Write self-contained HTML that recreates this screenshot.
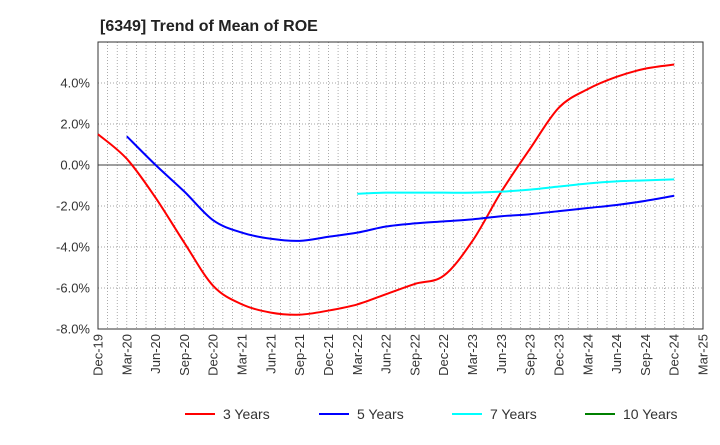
<!DOCTYPE html>
<html><head><meta charset="utf-8"><style>
body{margin:0;background:#fff;font-family:"Liberation Sans",Arial,sans-serif;}
svg text{font-family:"Liberation Sans",Arial,sans-serif;}
</style></head><body>
<svg id="c" width="720" height="440" xmlns="http://www.w3.org/2000/svg">
<text x="100" y="31" font-size="16" font-weight="bold" fill="#222">[6349]  Trend of Mean of ROE</text>
<g id="grid"></g><g id="axes"></g><g id="series"></g><g id="legend"></g>
</svg>
<script>
const xLabels=["Dec-19","Mar-20","Jun-20","Sep-20","Dec-20","Mar-21","Jun-21","Sep-21","Dec-21","Mar-22","Jun-22","Sep-22","Dec-22","Mar-23","Jun-23","Sep-23","Dec-23","Mar-24","Jun-24","Sep-24","Dec-24","Mar-25"];
const yTicks=[4,2,0,-2,-4,-6,-8];
const seriesNames=["3 Years","5 Years","7 Years","10 Years"];
const seriesColors=["#ff0000","#0000ff","#00ffff","#008000"];
const r3=[1.5,0.3,-1.6,-3.8,-5.9,-6.8,-7.2,-7.3,-7.1,-6.8,-6.3,-5.8,-5.4,-3.7,-1.3,0.8,2.8,3.7,4.3,4.7,4.9];
const r3Start=0;
const r5=[1.4,0.0,-1.3,-2.7,-3.3,-3.6,-3.7,-3.5,-3.3,-3.0,-2.85,-2.75,-2.65,-2.5,-2.4,-2.25,-2.1,-1.95,-1.75,-1.5];
const r5Start=1;
const r7=[-1.4,-1.35,-1.35,-1.35,-1.35,-1.3,-1.2,-1.05,-0.9,-0.8,-0.75,-0.7];
const r7Start=9;
const r10=[];
const r10Start=0;

const L=98,R=703,T=42,B=329,yMax=6,yMin=-8;
const NS="http://www.w3.org/2000/svg";
const X=i=>L+(R-L)*i/(xLabels.length-1);
const Y=v=>T+(B-T)*(yMax-v)/(yMax-yMin);
function mk(tag,attrs,parent){const e=document.createElementNS(NS,tag);for(const k in attrs)e.setAttribute(k,attrs[k]);parent.appendChild(e);return e;}
const grid=document.getElementById('grid'),axes=document.getElementById('axes'),ser=document.getElementById('series'),leg=document.getElementById('legend');
for(let m=1;m<(xLabels.length-1)*3;m++){
 const x=L+(R-L)*m/((xLabels.length-1)*3);
 const g=mk('line',{x1:x,x2:x,y1:T,y2:B,stroke:'#888','stroke-width':0.7,'stroke-dasharray':'1,2'},grid);
 
 
}
yTicks.forEach(v=>{
 const y=Y(v);
 const g=mk('line',{x1:L,x2:R,y1:y,y2:y,stroke:v===0?'#666':'#888','stroke-width':v===0?1.2:0.8,'stroke-dasharray':v===0?'':'1,2'},grid);
 
 
 const t=mk('text',{x:L-8,y:y+4.5,'text-anchor':'end','font-size':13,fill:'#333'},axes);
 t.textContent=v.toFixed(1)+'%';
 
 
});
const fr=mk('rect',{x:L,y:T,width:R-L,height:B-T,fill:'none',stroke:'#333','stroke-width':1},axes);


xLabels.forEach((lab,i)=>{
 const x=X(i);
 const t=mk('text',{x:0,y:0,'text-anchor':'end','font-size':13,fill:'#333',transform:`translate(${x+4.5},${B+5}) rotate(-90)`},axes);
 t.textContent=lab;
 
 
});
function path(vals,start){
 const p=vals.map((v,i)=>[X(start+i),Y(v)]);
 if(p.length<2)return '';
 let d=`M${p[0][0]},${p[0][1]}`;
 for(let i=0;i<p.length-1;i++){
  const p0=p[Math.max(0,i-1)],p1=p[i],p2=p[i+1],p3=p[Math.min(p.length-1,i+2)];
  const c1=[p1[0]+(p2[0]-p0[0])/6,p1[1]+(p2[1]-p0[1])/6],c2=[p2[0]-(p3[0]-p1[0])/6,p2[1]-(p3[1]-p1[1])/6];
  d+=`C${c1[0]},${c1[1]} ${c2[0]},${c2[1]} ${p2[0]},${p2[1]}`;
 }
 return d;
}
[[r3,r3Start],[r5,r5Start],[r7,r7Start],[r10,r10Start]].forEach((s,k)=>{
 if(s[0].length<2)return;
 const e=mk('path',{d:path(s[0],s[1]),fill:'none',stroke:seriesColors[k],'stroke-width':2,'stroke-linejoin':'round'},ser);
 
 
});
const lx=[185,319,452,585];
seriesNames.forEach((n,k)=>{
 const g=mk('g',{},leg);
 
 
 mk('line',{x1:lx[k],x2:lx[k]+30,y1:414,y2:414,stroke:seriesColors[k],'stroke-width':2},g);
 const t=mk('text',{x:lx[k]+38,y:419,'font-size':14,fill:'#333'},g);
 t.textContent=n;
});
</script>
</body></html>
